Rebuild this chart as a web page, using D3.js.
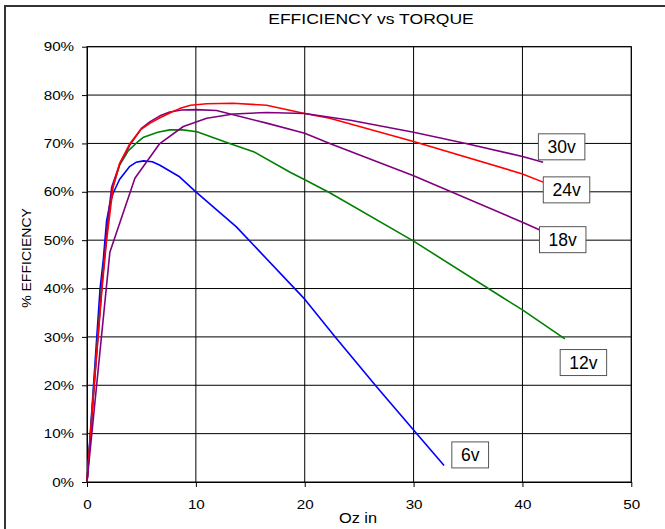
<!DOCTYPE html>
<html>
<head>
<meta charset="utf-8">
<script src="https://cdn.jsdelivr.net/npm/d3@7"></script>
<style>
  body { margin: 0; background: #fff; }
  svg text { font-family: "Liberation Sans", Arial, sans-serif; fill: #000; }
</style>
</head>
<body>
<div id="chart"></div>
<script>
(function() {
    // torque (oz in) and efficiency (%) per supply voltage
    const torque6 = [0, 1.2, 1.5, 1.8, 2.1, 2.4, 3.0, 3.9, 4.5, 5.2, 6.0, 6.7, 8.5, 10, 13.7, 20, 22.8, 26.6, 30, 32.8];
    const eff6 = [0, 40, 46, 54, 57.5, 59.7, 62.6, 65.2, 66.1, 66.4, 66.2, 65.5, 63.1, 60, 52.8, 37.8, 30, 19.7, 10.75, 3.4];

    const torque12 = [0, 0.7, 1.4, 2.0, 2.3, 3.0, 3.8, 4.6, 5.2, 6.5, 7.6, 8.8, 10.1, 13.1, 15.3, 18.7, 20.1, 22.3, 30, 38, 40, 43.9];
    const eff12 = [0, 22, 42, 55, 60.5, 65.5, 68.5, 70.2, 71.3, 72.3, 72.8, 72.8, 72.4, 70.0, 68.3, 64.0, 62.4, 59.8, 49.8, 38.4, 35.6, 29.6];

    const torque18 = [0, 0.7, 1.35, 1.9, 2.27, 3.03, 3.95, 5.0, 5.8, 6.7, 7.6, 8.7, 10, 11.9, 16.5, 20, 22.3, 30, 40, 41.6];
    const eff18 = [0, 21, 40, 54, 61, 65.9, 69.7, 73.1, 74.5, 75.7, 76.5, 76.9, 77.0, 76.8, 74.2, 72.1, 70.0, 63.3, 53.7, 52.1];

    const torque24 = [0, 0.65, 1.38, 1.8, 2.1, 2.4, 3.0, 3.95, 4.9, 5.8, 6.7, 7.6, 8.5, 9.5, 11, 13.4, 16.5, 20, 22.3, 30, 40, 41.9];
    const eff24 = [0, 20, 40, 50, 55.5, 61, 65.9, 70, 72.8, 74.2, 75.3, 76.3, 77.2, 77.9, 78.2, 78.3, 77.9, 76.2, 75.2, 70.4, 63.7, 62.0];

    const torque30 = [0, 2.1, 4.4, 6.65, 8.85, 11, 13.45, 16.5, 20, 24.2, 30, 34.6, 40, 41.9];
    const eff30 = [0, 47.5, 62.8, 69.9, 73.5, 75.2, 76.1, 76.4, 76.2, 74.8, 72.3, 70.1, 67.3, 66.1];

    const voltLabels = ["6v", "12v", "18v", "24v", "30v"];
    const voltColors = ["#0000ff", "#008000", "#800080", "#ff0000", "#800080"];
    // label anchors in chart units (oz in, %)
    const labelTorque = [35.2, 45.6, 43.7, 44.05, 43.6];
    const labelEff = [5.6, 24.7, 50.1, 60.4, 69.3];

    const xTicks = [0, 10, 20, 30, 40, 50];
    const yTicks = [0, 10, 20, 30, 40, 50, 60, 70, 80, 90];

    let w = 665,
        h = 529,
        left = 87,
        right = 631.3,
        top = 46.7,
        bottom = 482,
        stretch = 1.17;

    const series = [
        [torque6, eff6], [torque12, eff12], [torque18, eff18], [torque24, eff24], [torque30, eff30]
    ].map(function(s, i) {
        return {
            name: voltLabels[i],
            color: voltColors[i],
            points: s[0].map(function(t, j) { return [t, s[1][j]]; })
        };
    });

    let svg = d3.select("#chart")
        .append("svg")
        .attr("width", w)
        .attr("height", h);

    // outer chart frame
    svg.append("rect")
        .attr("x", 5).attr("y", 6)
        .attr("width", 720).attr("height", 600)
        .attr("fill", "#fff")
        .attr("stroke", "#333")
        .attr("stroke-width", 2);

    let x = d3.scaleLinear().domain([0, 50]).range([left, right]);
    let y = d3.scaleLinear().domain([0, 90]).range([bottom, top]);

    // grid
    svg.append("g").selectAll("line").data(yTicks.slice(1)).enter().append("line")
        .attr("x1", left).attr("x2", right)
        .attr("y1", d => y(d)).attr("y2", d => y(d))
        .attr("stroke", "#000").attr("stroke-width", 1);
    svg.append("g").selectAll("line").data(xTicks.slice(1)).enter().append("line")
        .attr("y1", top).attr("y2", bottom)
        .attr("x1", d => x(d)).attr("x2", d => x(d))
        .attr("stroke", "#000").attr("stroke-width", 1);

    // axes
    let yAxis = svg.append("g")
        .attr("transform", "translate(" + left + ",0)")
        .call(d3.axisLeft(y).tickValues(yTicks).tickFormat(d => d + "%").tickSize(5).tickPadding(6).tickSizeOuter(0));
    let xAxis = svg.append("g")
        .attr("transform", "translate(0," + bottom + ")")
        .call(d3.axisBottom(x).tickValues(xTicks).tickSize(5).tickPadding(13).tickSizeOuter(0));

    [yAxis, xAxis].forEach(function(a) {
        a.select(".domain").attr("stroke", "#000");
        a.selectAll(".tick line").attr("stroke", "#000");
        a.selectAll(".tick text")
            .attr("font-size", 13)
            .attr("font-family", "Liberation Sans, Arial, sans-serif")
            .attr("transform", "scale(" + stretch + ",1)");
    });

    // right and top of plot area
    svg.append("rect")
        .attr("x", left).attr("y", top)
        .attr("width", right - left).attr("height", bottom - top)
        .attr("fill", "none").attr("stroke", "#000").attr("stroke-width", 1);

    // curves
    let line = d3.line()
        .x(d => x(d[0]))
        .y(d => y(d[1]));

    svg.append("g").selectAll("path").data(series).enter().append("path")
        .attr("d", d => line(d.points))
        .attr("fill", "none")
        .attr("stroke", d => d.color)
        .attr("stroke-width", 1.6)
        .attr("stroke-linejoin", "round");

    // voltage labels
    let labels = svg.append("g").selectAll("g").data(voltLabels).enter().append("g")
        .attr("transform", (d, i) => "translate(" + x(labelTorque[i]) + "," + y(labelEff[i]) + ")");
    labels.append("text")
        .attr("text-anchor", "middle")
        .attr("dy", "0.36em")
        .attr("font-size", 17.5)
        .text(d => d);
    labels.each(function() {
        let g = d3.select(this);
        let bb = g.select("text").node().getBBox();
        g.insert("rect", "text")
            .attr("x", -bb.width / 2 - 9)
            .attr("y", -13)
            .attr("width", bb.width + 18)
            .attr("height", 26)
            .attr("fill", "#fff")
            .attr("stroke", "#555")
            .attr("stroke-width", 1);
    });

    // titles
    function stretchedText(tx, ty, str, size, rotate) {
        svg.append("text")
            .attr("transform", "translate(" + tx + "," + ty + ")" + (rotate ? " rotate(-90)" : "") + " scale(" + stretch + ",1)")
            .attr("text-anchor", "middle")
            .attr("font-size", size)
            .text(str);
    }
    stretchedText(371, 24, "EFFICIENCY vs TORQUE", 15, false);
    stretchedText(358, 523, "Oz in", 14, false);
    stretchedText(31, 258, "% EFFICIENCY", 12, true);
})();
</script>
</body>
</html>
